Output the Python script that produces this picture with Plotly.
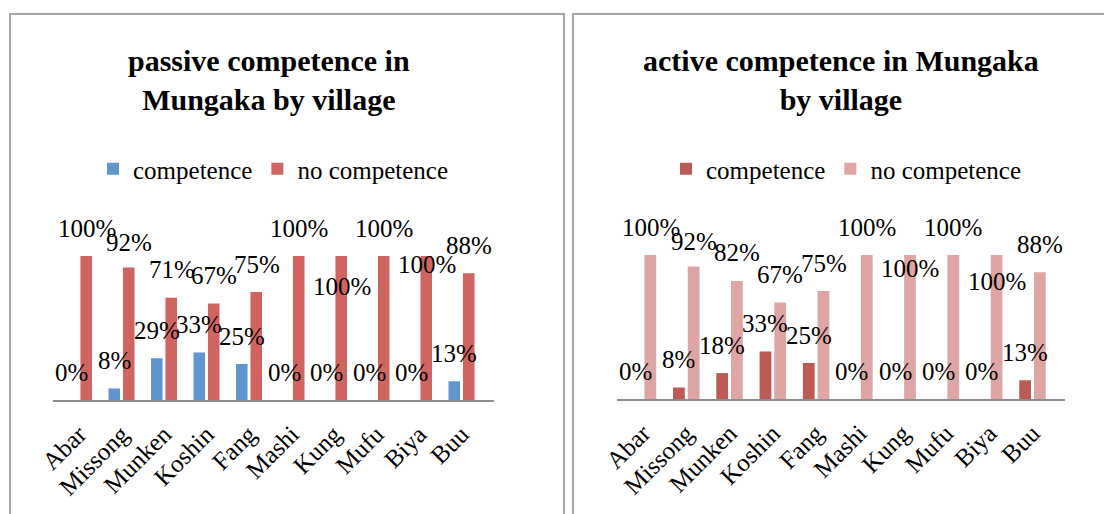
import plotly.graph_objects as go

W, H = 1112, 514
OFF = 8  # page body margin in the viewer

villages = ["Abar", "Missong", "Munken", "Koshin", "Fang", "Mashi", "Kung", "Mufu", "Biya", "Buu"]
passive_competence = [0, 8, 29, 33, 25, 0, 0, 0, 0, 13]
passive_no_competence = [100, 92, 71, 67, 75, 100, 100, 100, 100, 88]
active_competence = [0, 8, 18, 33, 25, 0, 0, 0, 0, 13]
active_no_competence = [100, 92, 82, 67, 75, 100, 100, 100, 100, 88]
series_names = ["competence", "no competence"]
titles = ["passive competence in<br>Mungaka by village", "active competence in Mungaka<br>by village"]

# label vertical nudges (px) reproducing the original label placement
nudge_passive_no = [0, -3, 0, 0, 0, 0, -58, 0, -36, 0]
nudge_active_no = [0, -3, 0, 0, 0, 0, -41, 0, -54, 0]
nudge_zero = [0] * 10

FONT = "Liberation Serif"
colors_left = ["#6096CE", "#CF6461"]
colors_right = ["#BC5A56", "#DDA6A4"]


def px(x):
    return (x - OFF) / W


def py(y):
    return 1 - (y - OFF) / H


fig = go.Figure()

panels = [
    dict(xa="x", ya="y", comp=passive_competence, nocomp=passive_no_competence,
         colors=colors_left, legend="legend", nudges=(nudge_zero, nudge_passive_no)),
    dict(xa="x2", ya="y2", comp=active_competence, nocomp=active_no_competence,
         colors=colors_right, legend="legend2", nudges=(nudge_zero, nudge_active_no)),
]

annotations = []
for p in panels:
    for i, vals in enumerate([p["comp"], p["nocomp"]]):
        fig.add_trace(go.Bar(
            x=villages, y=vals, name=series_names[i],
            marker=dict(color=p["colors"][i], line=dict(width=0)),
            xaxis=p["xa"], yaxis=p["ya"], legend=p["legend"],
        ))
        shift = -7.5 if i == 0 else 7.5
        for v, val, nd in zip(villages, vals, p["nudges"][i]):
            annotations.append(dict(
                x=v, y=val, xref=p["xa"], yref=p["ya"], text=f"{val}%",
                showarrow=False, xshift=shift, yshift=28 + nd,
                xanchor="center", yanchor="middle",
                font=dict(family=FONT, size=25, color="black"),
            ))

# titles
for t, cx in zip(titles, [269, 841]):
    annotations.append(dict(
        x=px(cx), y=py(42), xref="paper", yref="paper", text=f"<b>{t}</b>",
        showarrow=False, xanchor="center", yanchor="top",
        font=dict(family=FONT, size=30, color="black"),
    ))

axis_common = dict(
    showgrid=False, zeroline=False, ticks="", showline=True,
    linecolor="#8C8C8C", linewidth=1.5, tickangle=-45, automargin=False,
    ticklabelstandoff=8,
    tickfont=dict(family=FONT, size=25, color="black"),
    type="category",
)
yaxis_common = dict(showgrid=False, zeroline=False, showticklabels=False,
                    showline=False, range=[0, 100], fixedrange=True, automargin=False)

fig.update_layout(
    width=W, height=H, autosize=False,
    margin=dict(l=0, r=0, t=0, b=0, pad=0, autoexpand=False),
    paper_bgcolor="white", plot_bgcolor="white",
    barmode="group", bargap=0.32, bargroupgap=0.2,
    xaxis=dict(domain=[px(53), px(494)], anchor="y", **axis_common),
    yaxis=dict(domain=[py(400), py(256)], anchor="x", **yaxis_common),
    xaxis2=dict(domain=[px(617), px(1065)], anchor="y2", **axis_common),
    yaxis2=dict(domain=[py(399), py(255)], anchor="x2", **yaxis_common),
    legend=dict(orientation="h", x=px(273), xanchor="center", y=py(169), yanchor="middle",
                font=dict(family=FONT, size=25, color="black"), bgcolor="rgba(0,0,0,0)"),
    legend2=dict(orientation="h", x=px(846), xanchor="center", y=py(169), yanchor="middle",
                 font=dict(family=FONT, size=25, color="black"), bgcolor="rgba(0,0,0,0)"),
    annotations=annotations,
    shapes=[
        dict(type="rect", xref="paper", yref="paper", x0=px(10), x1=px(564), y0=-0.2, y1=py(14),
             line=dict(color="#A6A6A6", width=2), layer="below"),
        dict(type="rect", xref="paper", yref="paper", x0=px(573), x1=px(1140), y0=-0.2, y1=py(14),
             line=dict(color="#A6A6A6", width=2), layer="below"),
    ],
)

fig.write_html("out.html")
